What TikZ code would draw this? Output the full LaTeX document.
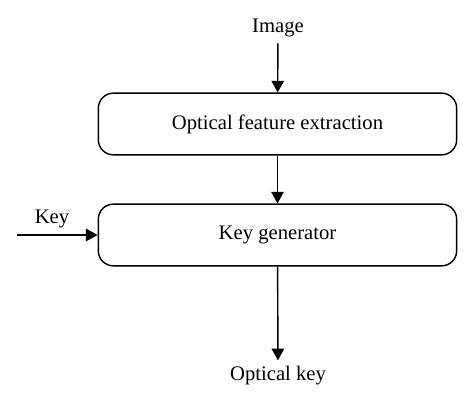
\documentclass[tikz,border=0pt]{standalone}
\usepackage{fontspec}
\setmainfont{Liberation Serif}
\usetikzlibrary{arrows.meta}

\begin{document}
\begin{tikzpicture}[x=0.6pt,y=-0.6pt,font=\fontsize{12.4}{14}\selectfont,
  box/.style={draw,rounded corners=9pt,line width=0.85pt,minimum width=215pt,minimum height=37pt},
  every path/.style={line width=0.85pt},
  >={Triangle[width=7.5pt,length=7pt]}]
\useasboundingbox (0,0) rectangle (474,403);
\foreach \x/\y/\n/\t in {278/28/img/Image, 52/219/key/Key, 278/376/okey/Optical key}
  \node (\n) at (\x,\y) {\t};
\foreach \y/\n/\t in {124/ofe/Optical feature extraction, 235/kg/Key generator}
  \node[box] (\n) at (277.5,\y) {\t};
\coordinate (kin) at (17,235);
\foreach \s/\t in {img/ofe, ofe/kg, kin/kg.west, kg/okey}
  \draw[->] (\s) -- (\t);
\end{tikzpicture}
\end{document}
